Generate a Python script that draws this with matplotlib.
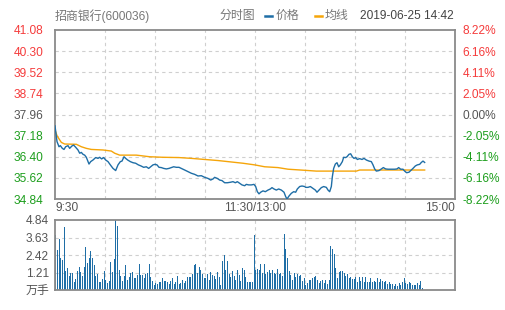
import matplotlib
matplotlib.use("Agg")
import matplotlib.pyplot as plt
from matplotlib.lines import Line2D
import numpy as np

plt.rcParams['font.family'] = ['Liberation Sans', 'Noto Sans CJK SC', 'DejaVu Sans']

# ---- data ----
stock = '招商银行(600036)'
stamp = '2019-06-25 14:42'
pre_close = 37.96
price_ticks = [34.84, 35.62, 36.40, 37.18, 37.96, 38.74, 39.52, 40.30, 41.08]
pct_ticks = [-8.22, -6.16, -4.11, -2.05, 0.00, 2.05, 4.11, 6.16, 8.22]
vol_ticks = [0, 1.21, 2.42, 3.63, 4.84]
time_labels = ['9:30', '11:30/13:00', '15:00']
time_ticks = [0, 120, 240]

# minute since open (lunch removed) / price
price_min = [0, 1.2, 2.4, 3.2, 4.4, 5.4, 6.4, 7.8, 8.8, 10.2, 11.2, 12.4, 13.8, 14.8, 15.8,
             16.8, 17.8, 18.8, 19.8, 20.4, 21.4, 22.8, 24.4, 25.8, 26.8, 28, 29.2, 30.4,
             31.8, 33.2, 34.8, 36.4, 37.8, 39.2, 40.2, 41.4, 42.4, 43.6, 45.2, 46.8, 48.4,
             50, 51.6, 53.2, 54.8, 56.2, 57.4, 58.8, 60, 61.2, 62.4, 63.8, 65.2, 66.8, 68.4,
             69.8, 71.2, 72.8, 74.4, 75.8, 77.8, 79.8, 81.8, 83.8, 85.8, 87.8, 89.8, 91.8,
             93.4, 94.8, 95.8, 97.4, 98.8, 100.2, 101.8, 103.4, 105.4, 106.8, 108.2, 109.4,
             110.8, 112.2, 113.8, 114.8, 116.2, 117.8, 119.4, 120.4, 121.4, 122.4, 123.4,
             124.8, 126.2, 127.8, 129.2, 130.2, 131.4, 132.8, 134.2, 135.8, 137.4, 138.4,
             139.2, 140.4, 141.8, 143.2, 144.4, 145.4, 146.8, 148.2, 149.8, 150.4, 151.8,
             153.2, 154.8, 156.2, 157.2, 158.4, 159.8, 161.2, 162.8, 163.8, 164.8, 165.8,
             166.4, 167.2, 168.2, 169.2, 170.2, 171.2, 172.4, 173.2, 174.4, 175.2, 176.4,
             177.4, 178.4, 179.4, 180.4, 181.4, 182.8, 184.2, 185.4, 186.8, 188.4, 189.8,
             190.8, 191.8, 192.8, 194.4, 195.8, 197, 198.4, 199.8, 201.8, 203.8, 205.2,
             206.2, 207.4, 208.8, 209.8, 211, 212.4, 213.8, 214.8, 216.2, 217.4, 218.8,
             219.8, 220.8, 221.8]
price = [37.54, 36.96, 36.77, 36.81, 36.71, 36.67, 36.77, 36.81, 36.71, 36.80, 36.83, 36.75,
         36.65, 36.53, 36.56, 36.49, 36.46, 36.38, 36.22, 36.13, 36.22, 36.28, 36.37, 36.34,
         36.38, 36.32, 36.37, 36.28, 36.22, 36.10, 35.97, 35.89, 36.10, 36.22, 36.24, 36.40,
         36.34, 36.28, 36.22, 36.18, 36.16, 36.10, 36.06, 36.01, 36.03, 35.97, 36.03, 36.10,
         36.12, 36.10, 36.01, 36.00, 35.97, 35.95, 35.97, 36.00, 36.03, 36.01, 36.01, 35.97,
         35.91, 35.85, 35.79, 35.75, 35.69, 35.70, 35.64, 35.60, 35.54, 35.58, 35.64, 35.60,
         35.54, 35.52, 35.44, 35.44, 35.46, 35.48, 35.44, 35.48, 35.42, 35.36, 35.33, 35.38,
         35.36, 35.36, 35.38, 35.30, 35.11, 35.03, 35.09, 35.14, 35.11, 35.17, 35.21, 35.26,
         35.21, 35.17, 35.21, 35.17, 35.09, 34.93, 34.84, 34.95, 35.05, 35.11, 35.09, 35.21,
         35.30, 35.32, 35.30, 35.27, 35.27, 35.30, 35.23, 35.17, 35.09, 35.17, 35.26, 35.30,
         35.27, 35.17, 35.11, 35.30, 35.66, 35.97, 36.13, 36.18, 36.03, 36.10, 36.22, 36.38,
         36.37, 36.40, 36.49, 36.51, 36.40, 36.34, 36.37, 36.30, 36.33, 36.30, 36.34, 36.28,
         36.24, 36.22, 36.10, 35.95, 35.87, 35.89, 35.95, 36.00, 35.95, 35.94, 35.94, 35.94,
         35.95, 36.00, 35.94, 35.94, 35.87, 35.81, 35.83, 35.91, 35.97, 36.06, 36.10, 36.12,
         36.19, 36.24, 36.19]

avg_min = [0, 1.2, 2.4, 3.8, 5.8, 12.8, 15.8, 18.8, 21.8, 28.8, 33.8, 35.8, 38.8, 48.8, 56.8,
           64.8, 74.4, 81.8, 89.8, 97.8, 103.8, 112.8, 119.8, 125.8, 133.8, 139.8, 149.8,
           156.8, 180.8, 182.8, 221.8]
avg_price = [37.39, 37.18, 37.06, 36.93, 36.87, 36.86, 36.77, 36.71, 36.67, 36.65, 36.61,
             36.53, 36.46, 36.46, 36.40, 36.38, 36.37, 36.34, 36.30, 36.26, 36.22, 36.16,
             36.10, 36.03, 36.00, 35.94, 35.90, 35.87, 35.87, 35.91, 35.91]

# volume per minute, in 万手
volume = [3.80, 2.77, 3.53, 2.19, 2.07, 4.36, 1.31, 1.54, 0.97, 1.20, 1.20, 0.58, 0.74, 1.31,
          1.57, 1.27, 0.97, 1.61, 3.00, 1.84, 2.19, 2.70, 2.19, 1.73, 0.97, 1.08, 0.58, 0.58,
          0.76, 1.31, 0.69, 0.46, 0.65, 1.91, 1.22, 2.14, 4.84, 4.45, 1.38, 0.97, 0.65, 0.97,
          1.73, 0.69, 0.92, 1.20, 1.22, 0.81, 0.85, 1.04, 1.80, 1.04, 1.04, 0.81, 1.08,
          1.15, 1.80, 0.92, 0.62, 0.35, 0.46, 0.39, 0.58, 0.58, 0.81, 0.62, 0.62, 0.53, 0.41,
          0.62, 0.81, 0.39, 0.58, 0.97, 0.41, 0.51, 0.69, 0.51, 0.65, 0.92, 0.92, 0.92, 1.08,
          1.73, 1.80, 1.15, 1.61, 1.38, 1.08, 0.85, 0.85, 1.08, 0.69, 1.22, 1.04, 0.97, 0.76,
          1.27, 0.92, 0.35, 2.00, 2.42, 1.38, 2.03, 1.11, 0.92, 1.31, 0.97, 0.69, 1.38, 1.04,
          0.62, 1.50, 1.38, 0.92, 0.58, 0.58, 0.58, 0.58, 3.80, 1.38, 1.45, 1.38, 1.80, 1.15,
          1.80, 1.08, 1.27, 1.38, 1.15, 1.38, 1.15, 1.08, 1.45, 1.08, 1.15, 0.97, 3.87, 2.81,
          2.24, 1.31, 1.04, 0.69, 1.15, 0.92, 1.08, 0.99, 1.04, 0.62, 0.85, 0.35, 0.46, 0.69,
          0.69, 0.81, 0.92, 0.99, 0.69, 0.46, 0.62, 0.69, 0.46, 0.69, 0.41, 0.69, 3.07, 2.81,
          2.47, 1.54, 0.85, 1.22, 1.34, 1.31, 1.15, 0.99, 1.11, 0.85, 0.92, 0.74, 0.76, 0.92,
          0.58, 0.88, 0.62, 0.92, 0.58, 0.92, 0.53, 0.58, 0.81, 0.53, 0.62, 0.58, 0.81, 0.58,
          0.74, 0.62, 0.58, 0.62, 0.39, 0.58, 0.39, 0.39, 0.28, 0.39, 0.28, 0.51, 0.35, 0.58,
          0.81, 0.46, 0.39, 0.58, 0.51, 0.35, 0.35, 0.35, 0.46, 0.35, 0.62, 0.12]

RED = '#f53b3b'
GREEN = '#1d9e1d'
GREY = '#555555'
BLUE = '#1f6ea6'
ORANGE = '#f5a50a'
FS = 8.6

W, H = 505, 310
fig = plt.figure(figsize=(W / 100, H / 100), dpi=100)
fig.patch.set_facecolor('white')

def px_axes(l, t, r, b):
    return fig.add_axes([l / W, 1 - b / H, (r - l) / W, (b - t) / H])

ax = px_axes(55, 30, 455, 199)
axv = px_axes(55, 220, 455, 290)

def frame(a):
    for s in a.spines.values():
        s.set_color('#8a8a8a')
        s.set_linewidth(1.3)
    a.set_xlim(0, 240)
    for x in range(30, 240, 30):
        a.axvline(x, color='#cfcfcf', lw=0.8, ls=(0, (3, 3)), zorder=0)

# ---- price panel ----
frame(ax)
ax.set_ylim(price_ticks[0], price_ticks[-1])
for y in price_ticks[1:-1]:
    ax.axhline(y, color='#cfcfcf', lw=0.8, ls=(0, (3, 3)), zorder=0)
ax.plot(avg_min, avg_price, color=ORANGE, lw=1.0, zorder=2)
ax.plot(price_min, price, color=BLUE, lw=1.0, zorder=3)

ax.set_yticks(price_ticks)
ax.set_yticklabels(['%.2f' % v for v in price_ticks], fontsize=FS)
for lab, v in zip(ax.get_yticklabels(), price_ticks):
    lab.set_color(RED if v > pre_close + 1e-6 else (GREEN if v < pre_close - 1e-6 else GREY))
ax.tick_params(axis='y', length=0, pad=8.5)

ax.set_xticks(time_ticks)
ax.set_xticklabels(time_labels, fontsize=FS, color=GREY)
for lab, ha in zip(ax.get_xticklabels(), ['left', 'center', 'right']):
    lab.set_ha(ha)
ax.tick_params(axis='x', length=0, pad=2)

axr = ax.twinx()
axr.set_ylim(pct_ticks[0], pct_ticks[-1])
axr.set_yticks(pct_ticks)
axr.set_yticklabels(['%.2f%%' % v for v in pct_ticks], fontsize=FS)
for lab, v in zip(axr.get_yticklabels(), pct_ticks):
    lab.set_color(RED if v > 0 else (GREEN if v < 0 else GREY))
axr.tick_params(axis='y', length=0, pad=5.5)
for s in axr.spines.values():
    s.set_visible(False)

# ---- volume panel ----
frame(axv)
axv.set_ylim(0, vol_ticks[-1])
for y in vol_ticks[1:-1]:
    axv.axhline(y, color='#cfcfcf', lw=0.8, ls=(0, (3, 3)), zorder=0)
axv.bar(np.arange(len(volume)) + 0.5, volume, width=0.62, color=BLUE,
        antialiased=False, zorder=2)
axv.set_yticks(vol_ticks)
axv.set_yticklabels(['万手'] + ['%.2f' % v for v in vol_ticks[1:]], fontsize=FS, color=GREY)
axv.tick_params(axis='y', length=0, pad=4.3)
axv.set_xticks([])

# ---- header ----
ty = 1 - 16 / H
fig.text(55 / W, ty, stock, fontsize=FS, color='#777777', va='center', ha='left')
fig.text(220 / W, ty, '分时图', fontsize=FS, color='#777777', va='center', ha='left')
fig.add_artist(Line2D([265 / W, 272 / W], [ty, ty], color=BLUE, lw=1.8))
fig.text(276 / W, ty, '价格', fontsize=FS, color='#777777', va='center', ha='left')
fig.add_artist(Line2D([315 / W, 322 / W], [ty, ty], color=ORANGE, lw=1.8))
fig.text(325 / W, ty, '均线', fontsize=FS, color='#777777', va='center', ha='left')
fig.text(454 / W, ty, stamp, fontsize=FS, color='#444444', va='center', ha='right')

fig.savefig('out.png', dpi=100)
